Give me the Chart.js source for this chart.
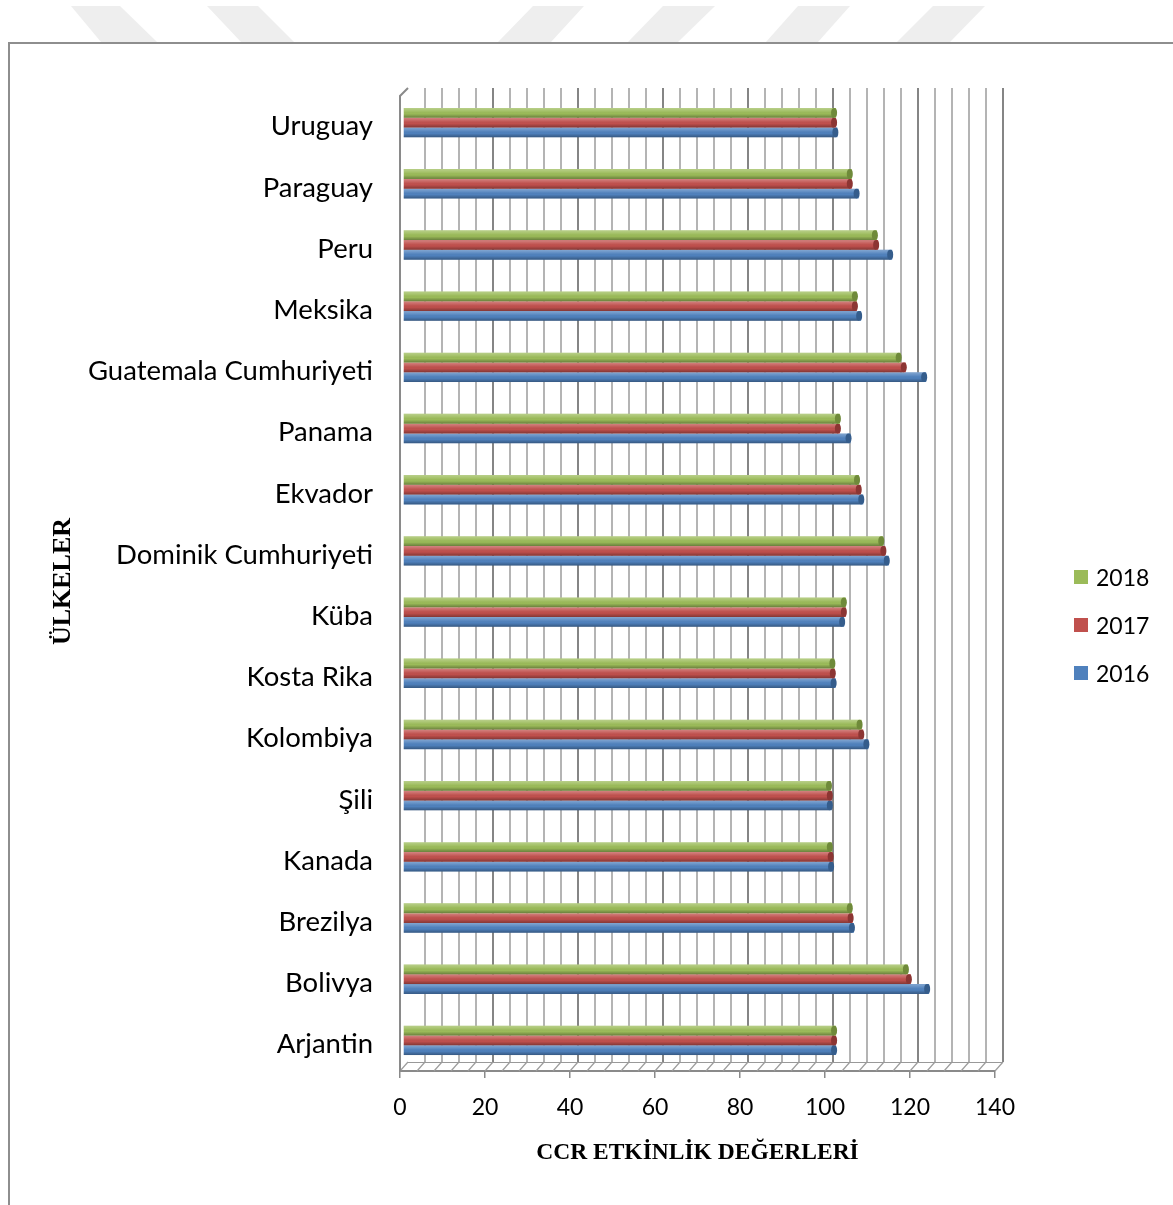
<!DOCTYPE html>
<html lang="tr">
<head>
<meta charset="UTF-8">
<title>CCR Etkinlik Değerleri</title>
<script src="https://cdn.jsdelivr.net/npm/chart.js@4.4.1/dist/chart.umd.min.js"></script>
<style>
    body { margin: 0; background: #fff; }
    #wrap { position: relative; width: 1173px; height: 1205px; overflow: hidden; background: #fff; }
    #marks { position: absolute; left: 0; top: 0; }
    #frame {
        position: absolute; left: 8px; top: 42px; right: -4px; bottom: -4px;
        border-top: 2px solid #8e8e8e; border-left: 2px solid #8e8e8e;
    }
    #chart { position: absolute; left: 0; top: 0; }
    #legend { position: absolute; left: 1074px; top: 553px; font-family: Lato, sans-serif; font-size: 23px; color: #000; }
    #legend .row { display: flex; align-items: center; height: 48px; }
    #legend .box { width: 14px; height: 14px; margin-right: 8px; }
</style>
</head>
<body>
<div id="wrap">
    <svg id="marks" width="1173" height="42">
        <g fill="#eeeeee">
            <polygon points="71,6 120,6 157,42 101,42"/>
            <polygon points="207,6 258,6 294,42 241,42"/>
            <polygon points="533,6 584,6 551,42 498,42"/>
            <polygon points="663,6 715,6 678,42 628,42"/>
            <polygon points="798,6 850,6 818,42 766,42"/>
            <polygon points="933,6 985,6 950,42 897,42"/>
        </g>
    </svg>
    <div id="frame"></div>
    <canvas id="chart" width="1173" height="1205"></canvas>
    <div id="legend"></div>
</div>

<script>
    const countries = [
        'Uruguay', 'Paraguay', 'Peru', 'Meksika', 'Guatemala Cumhuriyeti', 'Panama',
        'Ekvador', 'Dominik Cumhuriyeti', 'Küba', 'Kosta Rika', 'Kolombiya', 'Şili',
        'Kanada', 'Brezilya', 'Bolivya', 'Arjantin'
    ];
    const years = ['2018', '2017', '2016'];
    const ccr2018 = [101.9, 105.6, 111.5, 106.8, 117.1, 102.8, 107.3, 113.0, 104.2, 101.5, 107.9, 100.7, 100.9, 105.6, 118.8, 101.9];
    const ccr2017 = [101.9, 105.6, 111.8, 106.8, 118.3, 102.8, 107.7, 113.5, 104.2, 101.6, 108.3, 100.9, 101.1, 105.8, 119.5, 101.9];
    const ccr2016 = [102.2, 107.2, 115.1, 107.8, 123.1, 105.3, 108.3, 114.3, 103.8, 101.8, 109.5, 100.9, 101.2, 106.1, 123.8, 101.9];
    const xTicks = { min: 0, max: 140, step: 20 };

    const colors = ['#9bbb59', '#c0504d', '#4f81bd'];
    const capColors = ['#6f8a3a', '#8c3533', '#355d8c'];

    // depth of the pseudo 3D box (back wall offset)
    const DX = 8, DY = 9;

    const boxPlugin = {
        id: 'box3d',
        beforeDatasetsDraw(chart) {
            const { ctx, chartArea: a, scales: { x } } = chart;
            const top = a.top - 4, floor = a.bottom - DY;
            ctx.save();
            // back wall lines, every 4 units, darker every 20
            for (let v = 4; v <= xTicks.max; v += 4) {
                const px = Math.round(x.getPixelForValue(v) + DX);
                const major = v % 20 === 0;
                ctx.strokeStyle = major ? '#858585' : '#b4b4b4';
                ctx.lineWidth = 2;
                ctx.beginPath();
                ctx.moveTo(px, top);
                ctx.lineTo(px, floor);
                ctx.stroke();
            }
            // floor
            ctx.strokeStyle = '#9c9c9c';
            ctx.lineWidth = 1.2;
            for (let v = 0; v <= xTicks.max; v += 4) {
                const px = x.getPixelForValue(v);
                ctx.beginPath();
                ctx.moveTo(px, a.bottom);
                ctx.lineTo(px + DX, floor);
                ctx.stroke();
            }
            ctx.strokeStyle = '#999';
            ctx.beginPath();
            ctx.moveTo(x.getPixelForValue(0) + DX, floor + 0.5);
            ctx.lineTo(x.getPixelForValue(xTicks.max) + DX, floor + 0.5);
            ctx.stroke();
            // left wall
            const lx = x.getPixelForValue(0);
            ctx.strokeStyle = '#8a8a8a';
            ctx.lineWidth = 2;
            ctx.beginPath();
            ctx.moveTo(lx, a.bottom);
            ctx.lineTo(lx, top + DY - 1);
            ctx.lineTo(lx + DX, top);
            ctx.stroke();
            ctx.restore();

            // bars sit half way into the box
            ctx.save();
            ctx.translate(3, 0);
        },
        afterDatasetDraw(chart, args) {
            const ctx = chart.ctx;
            const meta = args.meta;
            meta.data.forEach(bar => {
                const { x, y, base, height } = bar.getProps(['x', 'y', 'base', 'height'], true);
                const t = y - height / 2;
                const g = ctx.createLinearGradient(0, t, 0, t + height);
                g.addColorStop(0, 'rgba(255,255,255,0.30)');
                g.addColorStop(0.35, 'rgba(255,255,255,0.08)');
                g.addColorStop(0.6, 'rgba(0,0,0,0)');
                g.addColorStop(1, 'rgba(0,0,0,0.32)');
                ctx.fillStyle = g;
                ctx.fillRect(base, t, x - base - 2, height);
                // rounded end of the cylinder
                ctx.fillStyle = capColors[args.index];
                ctx.beginPath();
                ctx.ellipse(x - 2, y, 3, height / 2, 0, 0, Math.PI * 2);
                ctx.fill();
            });
        },
        afterDatasetsDraw(chart) {
            chart.ctx.restore();
        }
    };

    const series = [ccr2018, ccr2017, ccr2016];

    const chart = new Chart(document.getElementById('chart'), {
        type: 'bar',
        data: {
            labels: countries,
            datasets: years.map((y, i) => ({
                label: y,
                data: series[i],
                backgroundColor: colors[i],
                borderWidth: 0,
                categoryPercentage: 0.48,
                barPercentage: 1
            }))
        },
        options: {
            indexAxis: 'y',
            responsive: false,
            animation: false,
            layout: { padding: { top: 92, right: 178, bottom: 0, left: 0 } },
            scales: {
                x: {
                    min: xTicks.min,
                    max: xTicks.max,
                    afterFit: s => { s.height = 134; },
                    ticks: {
                        stepSize: xTicks.step,
                        padding: 16,
                        color: '#000',
                        font: { family: 'Lato', size: 23 }
                    },
                    grid: { drawOnChartArea: false, tickLength: 7, color: '#8a8a8a', lineWidth: 1.5 },
                    border: { display: true, color: '#8a8a8a', width: 2 },
                    title: {
                        display: true,
                        text: 'CCR ETKİNLİK DEĞERLERİ',
                        color: '#000',
                        font: { family: 'Liberation Serif', size: 23.5, weight: 'bold' },
                        padding: { top: 0, bottom: 38 }
                    }
                },
                y: {
                    afterFit: s => { s.width = 400; },
                    ticks: {
                        padding: 19,
                        labelOffset: 4,
                        color: '#000',
                        font: { family: 'Lato', size: 27.5 }
                    },
                    grid: { display: false },
                    border: { display: false },
                    title: {
                        display: true,
                        text: 'ÜLKELER',
                        color: '#000',
                        font: { family: 'Liberation Serif', size: 26, weight: 'bold' },
                        padding: { top: 48, bottom: 0 }
                    }
                }
            },
            plugins: {
                legend: { display: false },
                tooltip: { enabled: false }
            }
        },
        plugins: [boxPlugin]
    });

    // legend, same order as the bars in each group
    const legend = document.getElementById('legend');
    chart.data.datasets.forEach((ds, i) => {
        const row = document.createElement('div');
        row.className = 'row';
        row.innerHTML = '<span class="box" style="background:' + colors[i] + '"></span><span>' + ds.label + '</span>';
        legend.appendChild(row);
    });
</script>
</body>
</html>
